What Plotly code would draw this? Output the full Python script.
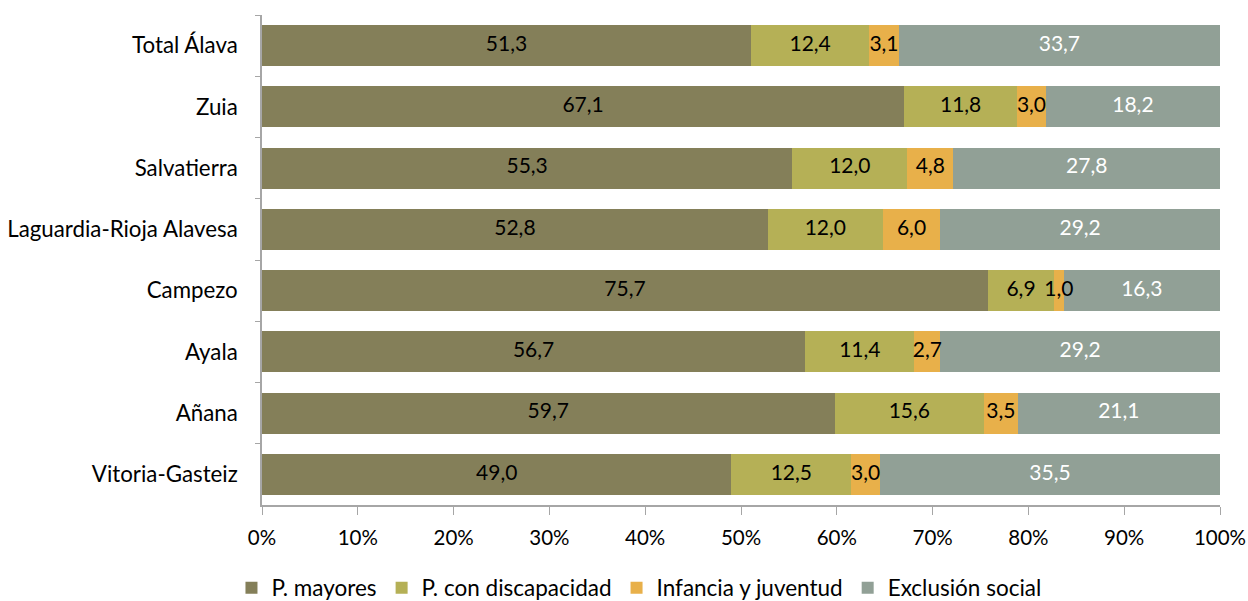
import plotly.graph_objects as go

# Distribution of social-service users by area (percent of total)
areas = ["Total Álava", "Zuia", "Salvatierra", "Laguardia-Rioja Alavesa",
         "Campezo", "Ayala", "Añana", "Vitoria-Gasteiz"]

p_mayores = [51.3, 67.1, 55.3, 52.8, 75.7, 56.7, 59.7, 49.0]
p_discapacidad = [12.4, 11.8, 12.0, 12.0, 6.9, 11.4, 15.6, 12.5]
infancia = [3.1, 3.0, 4.8, 6.0, 1.0, 2.7, 3.5, 3.0]
exclusion = [33.7, 18.2, 27.8, 29.2, 16.3, 29.2, 21.1, 35.5]

tick_vals = [0, 10, 20, 30, 40, 50, 60, 70, 80, 90, 100]
tick_text = ["0%", "10%", "20%", "30%", "40%", "50%", "60%", "70%", "80%", "90%", "100%"]

series = [
    ("P. mayores", p_mayores, "#847F59", "black"),
    ("P. con discapacidad", p_discapacidad, "#B5B056", "black"),
    ("Infancia y juventud", infancia, "#E8B04A", "black"),
    ("Exclusión social", exclusion, "#91A096", "white"),
]

FONT = "Lato, Carlito, Calibri, sans-serif"

fig = go.Figure()
for name, vals, color, _ in series:
    fig.add_trace(go.Bar(
        name=name,
        y=areas,
        x=vals,
        orientation="h",
        marker=dict(color=color, line=dict(width=0)),
        hoverinfo="skip",
    ))

# Value labels sit on top of every segment (small segments may overflow),
# placed at the centre of each segment after normalising the row to 100%.
totals = [sum(row) for row in zip(p_mayores, p_discapacidad, infancia, exclusion)]
lab_x, lab_y, lab_t, lab_c = [], [], [], []
for i, area in enumerate(areas):
    start = 0.0
    for _, vals, _, tcolor in series:
        v = vals[i]
        lab_x.append((start + v / 2) / totals[i] * 100)
        lab_y.append(area)
        lab_t.append(f"{v:.1f}".replace(".", ","))
        lab_c.append(tcolor)
        start += v

fig.add_trace(go.Scatter(
    x=lab_x, y=lab_y, text=lab_t,
    mode="text",
    textposition="middle center",
    textfont=dict(color=lab_c, size=21, family=FONT),
    showlegend=False,
    hoverinfo="skip",
))

fig.update_layout(
    barmode="stack",
    barnorm="percent",
    bargap=0.33,
    separators=",.",
    width=1248,
    height=601,
    margin=dict(l=262, r=28, t=15, b=96, autoexpand=False),
    paper_bgcolor="white",
    plot_bgcolor="white",
    font=dict(family=FONT, size=21, color="black"),
    legend=dict(
        orientation="h",
        traceorder="normal",
        xref="paper",
        x=0.3935, xanchor="center",
        yref="container",
        y=1 - 588 / 601, yanchor="middle",
        itemwidth=30,
        font=dict(size=22.5, family=FONT, color="black"),
        itemclick=False,
    ),
    showlegend=True,
)

fig.update_xaxes(
    range=[0, 100],
    tickvals=tick_vals,
    ticktext=tick_text,
    showgrid=False,
    zeroline=False,
    showline=True,
    linecolor="#A6A6A6",
    linewidth=1.5,
    ticks="outside",
    ticklen=8,
    tickcolor="#A6A6A6",
    ticklabelstandoff=6,
    automargin=False,
    tickfont=dict(size=20.5, family=FONT, color="black"),
)

fig.update_yaxes(
    categoryorder="array",
    categoryarray=areas,
    autorange="reversed",
    showgrid=False,
    showline=True,
    linecolor="#A6A6A6",
    linewidth=1.5,
    ticks="outside",
    ticklen=5,
    tickcolor="#A6A6A6",
    tickson="boundaries",
    ticklabelstandoff=18,
    automargin=False,
    tickfont=dict(size=22.3, family=FONT, color="black"),
)

fig.write_html("out.html")
